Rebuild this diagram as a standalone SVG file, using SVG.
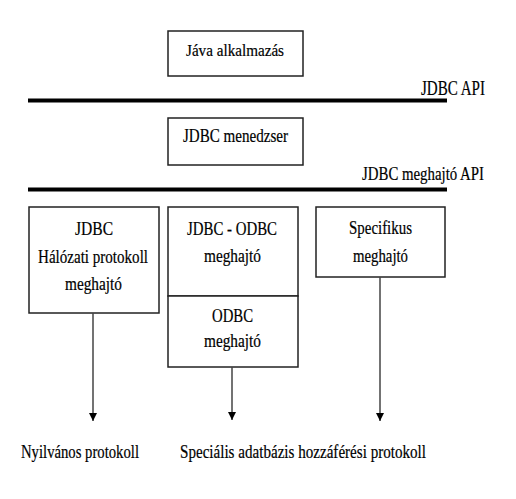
<svg xmlns="http://www.w3.org/2000/svg" width="516" height="499" viewBox="0 0 516 499">
<defs>
<style>
.box{fill:#fff;stroke:#222;stroke-width:1.5}
.t{font-family:'Liberation Serif','Times New Roman',serif;fill:#000;stroke:#000;stroke-width:0.2}
.bar{stroke:#000;stroke-width:4}
.conn{stroke:#444;stroke-width:1.5;fill:none}
</style>
<marker id="ah" viewBox="0 0 10 10" refX="10" refY="5" markerWidth="8" markerHeight="8" markerUnits="userSpaceOnUse" orient="auto"><path d="M0,0 L10,5 L0,10 Z" fill="#000"/></marker>
</defs>
<rect width="516" height="499" fill="#fff"/>
<g id="bars">
<line class="bar" x1="28" y1="100.5" x2="447" y2="100.5"/>
<line class="bar" x1="28" y1="189.5" x2="447" y2="189.5"/>
<text class="t" x="421" y="95" font-size="20" textLength="64" lengthAdjust="spacingAndGlyphs">JDBC API</text>
<text class="t" x="362" y="180" font-size="19" textLength="122" lengthAdjust="spacingAndGlyphs">JDBC meghajtó API</text>
</g>
<g id="java">
<rect class="box" x="168" y="31" width="135" height="45"/>
<text class="t" x="186" y="56" font-size="17" textLength="98" lengthAdjust="spacingAndGlyphs">Jáva alkalmazás</text>
</g>
<g id="manager">
<rect class="box" x="168" y="118" width="135" height="47"/>
<text class="t" x="183" y="142" font-size="19" textLength="105" lengthAdjust="spacingAndGlyphs">JDBC menedzser</text>
</g>
<g id="net">
<rect class="box" x="29" y="207" width="130" height="106"/>
<text class="t" x="75" y="235" font-size="18" textLength="38" lengthAdjust="spacingAndGlyphs">JDBC</text>
<text class="t" x="38" y="263" font-size="18" textLength="110" lengthAdjust="spacingAndGlyphs">Hálózati protokoll</text>
<text class="t" x="65" y="290" font-size="18" textLength="57" lengthAdjust="spacingAndGlyphs">meghajtó</text>
</g>
<g id="jdbcodbc">
<rect class="box" x="168" y="207" width="130" height="89"/>
<text class="t" x="187" y="235" font-size="18" textLength="90" lengthAdjust="spacingAndGlyphs">JDBC - ODBC</text>
<text class="t" x="204" y="262" font-size="18" textLength="57" lengthAdjust="spacingAndGlyphs">meghajtó</text>
</g>
<g id="odbc">
<rect class="box" x="168" y="296" width="130" height="71"/>
<text class="t" x="212" y="322" font-size="18" textLength="41" lengthAdjust="spacingAndGlyphs">ODBC</text>
<text class="t" x="204" y="347" font-size="18" textLength="57" lengthAdjust="spacingAndGlyphs">meghajtó</text>
</g>
<g id="specific">
<rect class="box" x="316" y="207" width="129" height="70"/>
<text class="t" x="349" y="234" font-size="18" textLength="63" lengthAdjust="spacingAndGlyphs">Specifikus</text>
<text class="t" x="353" y="262" font-size="18" textLength="55" lengthAdjust="spacingAndGlyphs">meghajtó</text>
</g>
<g id="connectors">
<line class="conn" x1="93" y1="313" x2="93" y2="421" marker-end="url(#ah)"/>
<line class="conn" x1="232" y1="367" x2="232" y2="420" marker-end="url(#ah)"/>
<line class="conn" x1="380" y1="277" x2="380" y2="421" marker-end="url(#ah)"/>
</g>
<g id="labels">
<text class="t" x="21" y="458" font-size="19" textLength="118" lengthAdjust="spacingAndGlyphs">Nyilvános protokoll</text>
<text class="t" x="180" y="458" font-size="19" textLength="246" lengthAdjust="spacingAndGlyphs">Speciális adatbázis hozzáférési protokoll</text>
</g>
</svg>
